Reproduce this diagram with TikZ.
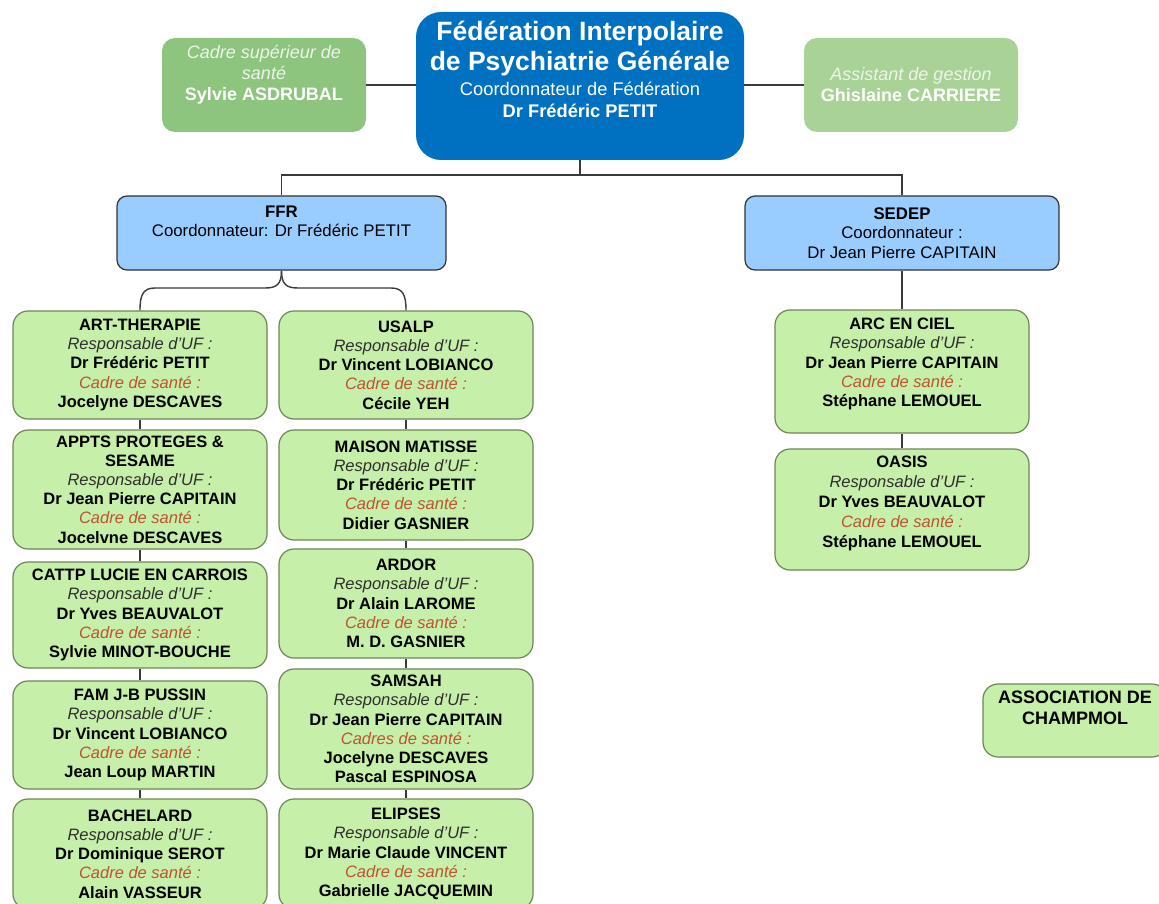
\documentclass[tikz,border=0pt]{standalone}
\usepackage{fontspec}
\setmainfont{Liberation Sans}

\definecolor{fedblue}{HTML}{0070C0}
\definecolor{coordblue}{HTML}{99CCFF}
\definecolor{ufgreen}{HTML}{C6EFAA}
\definecolor{ufedge}{HTML}{6F8458}
\definecolor{cadsupgreen}{HTML}{8DC47E}
\definecolor{assistgreen}{HTML}{A9D396}
\definecolor{sidetext}{HTML}{EEF4EA}
\definecolor{cadrered}{HTML}{BE5330}
\definecolor{respgray}{HTML}{2E2E2E}
\definecolor{linkgray}{HTML}{3A3A3A}

\newcommand{\respuf}{{\itshape\color{respgray}Responsable d’UF :}}
\newcommand{\cadresante}{{\itshape\color{cadrered}Cadre de santé :}}

\begin{document}
\begin{tikzpicture}[x=1pt,y=-1pt,
  link/.style={draw=linkgray,line width=1.4pt},
  ufbox/.style={draw=ufedge,fill=ufgreen,line width=1.2pt,rounded corners=15pt,
    minimum width=254pt,inner sep=0pt,align=center,
    font=\fontsize{16.5}{19.2}\selectfont},
  uftext/.style={inner sep=0pt,align=center,font=\fontsize{16.5}{19.2}\selectfont},
  coordbox/.style={draw=black!80,fill=coordblue,line width=1.2pt,rounded corners=10pt,
    minimum height=74pt,inner sep=0pt,align=center,
    font=\fontsize{16.8}{19.5}\selectfont},
  sidebox/.style={rounded corners=13pt,minimum height=94pt,inner sep=0pt,
    align=center,text=white,font=\fontsize{18}{21}\selectfont}
]
\clip (0,0) rectangle (1159,904);
\fill[white] (0,0) rectangle (1159,904);

% federation and the two side posts
\node[fill=fedblue,rounded corners=25pt,minimum width=328pt,minimum height=148pt] (fed) at (580,86) {};
\node[inner sep=0pt,align=center,text=white,font=\fontsize{26.5}{30}\selectfont\bfseries] (fed-title) at (580,49)
  {Fédération Interpolaire\\ de Psychiatrie Générale};
\node[inner sep=0pt,align=center,text=white,font=\fontsize{18.3}{22}\selectfont] (fed-coord) at (580,100)
  {Coordonnateur de Fédération\\ \textbf{Dr Frédéric PETIT}};

\node[sidebox,fill=cadsupgreen,minimum width=204pt] (cadsup) at (264,85) {};
\node[inner sep=0pt,align=center,text=white,font=\fontsize{18}{21}\selectfont] (cadsup-t) at (264,75)
  {{\itshape\color{sidetext}Cadre supérieur de}\\ {\itshape\color{sidetext}santé}\\ \textbf{Sylvie ASDRUBAL}};
\node[sidebox,fill=assistgreen,minimum width=214pt] (assist) at (911,85)
  {{\itshape\color{sidetext}Assistant de gestion}\\ \textbf{Ghislaine CARRIERE}};

% poles
\node[coordbox,minimum width=329pt] (ffr) at (281.5,233) {};
\node[uftext,font=\fontsize{16.8}{19.5}\selectfont] (ffr-t) at (281.5,221.5)
  {\textbf{FFR}\\ Coordonnateur: Dr Frédéric PETIT};
\node[coordbox,minimum width=314pt] (sedep) at (902,233)
  {\textbf{SEDEP}\\ Coordonnateur :\\ Dr Jean Pierre CAPITAIN};

% FFR, first column
\node[ufbox,minimum height=108pt] (art) at (140,365)
  {\textbf{ART-THERAPIE}\\ \respuf\\ \textbf{Dr Frédéric PETIT}\\ \cadresante\\ \textbf{Jocelyne DESCAVES}};
\node[ufbox,minimum height=119pt] (appts) at (140,489.5)
  {\textbf{APPTS PROTEGES \&}\\ \textbf{SESAME}\\ \respuf\\ \textbf{Dr Jean Pierre CAPITAIN}\\ \cadresante\\ \textbf{Jocelvne DESCAVES}};
\node[ufbox,minimum height=106pt] (cattp) at (140,615)
  {\textbf{CATTP LUCIE EN CARROIS}\\ \respuf\\ \textbf{Dr Yves BEAUVALOT}\\ \cadresante\\ \textbf{Sylvie MINOT-BOUCHE}};
\node[ufbox,minimum height=108pt] (fam) at (140,735)
  {\textbf{FAM J-B PUSSIN}\\ \respuf\\ \textbf{Dr Vincent LOBIANCO}\\ \cadresante\\ \textbf{Jean Loup MARTIN}};
\node[ufbox,minimum height=110pt] (bach) at (140,854)
  {\textbf{BACHELARD}\\ \respuf\\ \textbf{Dr Dominique SEROT}\\ \cadresante\\ \textbf{Alain VASSEUR}};

% FFR, second column
\node[ufbox,minimum height=108pt] (usalp) at (406,365)
  {\textbf{USALP}\\ \respuf\\ \textbf{Dr Vincent LOBIANCO}\\ \cadresante\\ \textbf{Cécile YEH}};
\node[ufbox,minimum height=110pt] (matisse) at (406,485)
  {\textbf{MAISON MATISSE}\\ \respuf\\ \textbf{Dr Frédéric PETIT}\\ \cadresante\\ \textbf{Didier GASNIER}};
\node[ufbox,minimum height=109pt] (ardor) at (406,603.5)
  {\textbf{ARDOR}\\ \respuf\\ \textbf{Dr Alain LAROME}\\ \cadresante\\ \textbf{M. D. GASNIER}};
\node[ufbox,minimum height=120pt] (samsah) at (406,729)
  {\textbf{SAMSAH}\\ \respuf\\ \textbf{Dr Jean Pierre CAPITAIN}\\ {\itshape\color{cadrered}Cadres de santé :}\\ \textbf{Jocelyne DESCAVES}\\ \textbf{Pascal ESPINOSA}};
\node[ufbox,minimum height=110pt] (elipses) at (406,854)
  {\textbf{ELIPSES}\\ \respuf\\ \textbf{Dr Marie Claude VINCENT}\\ \cadresante\\ \textbf{Gabrielle JACQUEMIN}};

% SEDEP
\node[ufbox,minimum height=123pt] (arc) at (902,371.5) {};
\node[uftext] (arc-t) at (902,364)
  {\textbf{ARC EN CIEL}\\ \respuf\\ \textbf{Dr Jean Pierre CAPITAIN}\\ \cadresante\\ \textbf{Stéphane LEMOUEL}};
\node[ufbox,minimum height=121pt] (oasis) at (902,509.5) {};
\node[uftext,font=\fontsize{16.5}{20}\selectfont] (oasis-t) at (902,503)
  {\textbf{OASIS}\\ \respuf\\ \textbf{Dr Yves BEAUVALOT}\\ \cadresante\\ \textbf{Stéphane LEMOUEL}};

\node[ufbox,minimum width=184pt,minimum height=73pt] (asso) at (1075,720.5) {};
\node[uftext,font=\fontsize{18}{21}\selectfont\bfseries] (asso-t) at (1075,707.5)
  {ASSOCIATION DE\\ CHAMPMOL};

% links
\draw[link] (cadsup.east) -- (cadsup.east -| fed.west);
\draw[link] (assist.west) -- (assist.west -| fed.east);
\draw[link] (fed.south) -- ++(0,15) -| (ffr.north);
\draw[link] (fed.south) ++(0,15) -| (sedep.north);
\draw[link] (ffr.south) .. controls (281.5,284) and (277,288) .. (265,288) -- (155,288)
  .. controls (143,288) and (140,295) .. (art.north);
\draw[link] (ffr.south) .. controls (281.5,284) and (286,288) .. (298,288) -- (391,288)
  .. controls (403,288) and (406,295) .. (usalp.north);
\draw[link] (sedep.south) -- (arc.north);
\foreach \a/\b in {art/appts,appts/cattp,cattp/fam,fam/bach,usalp/matisse,matisse/ardor,ardor/samsah,samsah/elipses,arc/oasis}
  \draw[link] (\a.south) -- (\b.north);
\end{tikzpicture}
\end{document}
